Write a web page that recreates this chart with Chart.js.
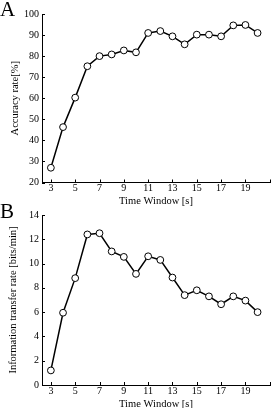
<!DOCTYPE html>
<html>
<head>
<meta charset="utf-8">
<script src="https://cdn.jsdelivr.net/npm/chart.js@4.4.0/dist/chart.umd.min.js"></script>
<style>
  body { margin: 0; background: #fff; }
  #wrap { position: relative; width: 275px; height: 408px; overflow: hidden; }
  canvas { position: absolute; left: 0; }
  .tag { position: absolute; left: 0; font-family: 'Liberation Serif', serif; font-size: 21px; line-height: 1; color: #000; }
</style>
</head>
<body>
<div id="wrap">
  <canvas id="chartA" width="275" height="212" style="top:0"></canvas>
  <canvas id="chartB" width="275" height="204" style="top:204px"></canvas>
  <div class="tag" style="top:-1px">A</div>
  <div class="tag" style="top:201px">B</div>
</div>
<script>
// Time window in seconds
var timeWindow = [3, 4, 5, 6, 7, 8, 9, 10, 11, 12, 13, 14, 15, 16, 17, 18, 19, 20];
// Panel A: accuracy rate [%]
var accuracy = [27.0, 46.3, 60.3, 75.2, 80.0, 80.8, 82.7, 81.8, 91.0, 91.9, 89.4, 85.6, 90.2, 90.2, 89.4, 94.6, 94.8, 91.0];
// Panel B: information transfer rate [bits/min]
var itr = [1.2, 5.95, 8.8, 12.4, 12.5, 11.0, 10.55, 9.15, 10.6, 10.3, 8.85, 7.4, 7.8, 7.3, 6.65, 7.3, 6.95, 6.0];
// x tick marks and their labels (last mark has no label)
var xTickValues = [3, 5, 7, 9, 11, 13, 15, 17, 19, 21];
var xTickLabels = ['3', '5', '7', '9', '11', '13', '15', '17', '19', ''];

var serif = "'Liberation Serif', 'Times New Roman', serif";

// short tick marks pointing into the plot
var innerTicks = {
  id: 'innerTicks',
  afterDraw: function (chart) {
    var ctx = chart.ctx;
    var xs = chart.scales.x, ys = chart.scales.y;
    ctx.save();
    ctx.strokeStyle = '#000';
    ctx.lineWidth = 1;
    ctx.beginPath();
    xs.ticks.forEach(function (t) {
      var px = Math.round(xs.getPixelForValue(t.value)) + 0.5;
      ctx.moveTo(px, xs.top);
      ctx.lineTo(px, xs.top - 3);
    });
    ys.ticks.forEach(function (t) {
      var py = Math.round(ys.getPixelForValue(t.value)) + 0.5;
      ctx.moveTo(ys.right, py);
      ctx.lineTo(ys.right + 3, py);
    });
    ctx.stroke();
    ctx.restore();
  }
};

function makeChart(id, values, yMin, yMax, yStep, yTitle, top, bottom, height, xTitlePad, yTitlePad) {
  var ctx = document.getElementById(id).getContext('2d');
  return new Chart(ctx, {
    type: 'line',
    data: {
      datasets: [{
        data: timeWindow.map(function (t, i) { return { x: t, y: values[i] }; }),
        borderColor: '#000',
        borderWidth: 1.5,
        pointRadius: 3.4,
        pointBorderWidth: 1,
        pointBackgroundColor: '#fff',
        pointBorderColor: '#000',
        tension: 0,
      }],
    },
    options: {
      responsive: false,
      animation: false,
      layout: { padding: { top: top, left: 0, right: 0, bottom: 0 } },
      plugins: { legend: { display: false }, tooltip: { enabled: false } },
      scales: {
        x: {
          type: 'linear',
          min: 2.27,
          max: 21.02,
          afterBuildTicks: function (scale) {
            scale.ticks = xTickValues.map(function (v) { return { value: v }; });
          },
          afterFit: function (scale) { scale.height = height - bottom; },
          ticks: {
            autoSkip: false,
            maxRotation: 0,
            padding: 0,
            color: '#000',
            font: { family: serif, size: 10 },
            callback: function (v) { return xTickLabels[xTickValues.indexOf(v)]; },
          },
          grid: { display: false, drawTicks: false },
          border: { display: true, color: '#000', width: 1 },
          title: {
            display: true,
            text: 'Time Window [s]',
            color: '#000',
            font: { family: serif, size: 10.5 },
            padding: { top: 0, bottom: xTitlePad },
          },
        },
        y: {
          min: yMin,
          max: yMax,
          afterFit: function (scale) { scale.width = 42; },
          ticks: {
            stepSize: yStep,
            padding: 3,
            color: '#000',
            font: { family: serif, size: 10 },
          },
          grid: { display: false, drawTicks: false },
          border: { display: true, color: '#000', width: 1 },
          title: {
            display: true,
            text: yTitle,
            color: '#000',
            font: { family: serif, size: 10.5 },
            padding: { top: yTitlePad, bottom: 0 },
          },
        },
      },
    },
    plugins: [innerTicks],
  });
}

makeChart('chartA', accuracy, 20, 100, 10, 'Accuracy rate[%]', 14, 182.5, 212, 4, 8.5);
makeChart('chartB', itr, 0, 14, 2, 'Information transfer rate [bits/min]', 11, 181, 204, -3, 6.5);
</script>
</body>
</html>
